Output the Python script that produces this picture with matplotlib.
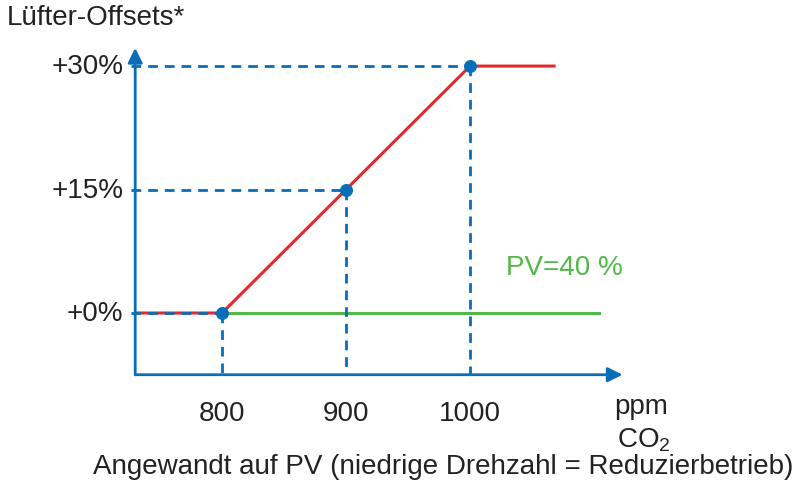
import matplotlib.pyplot as plt

plt.rcParams['font.family'] = ['Liberation Sans', 'DejaVu Sans']

# CO2 breakpoints (ppm) and fan offsets (%)
co2_points = [800, 900, 1000]
offset_points = [0, 15, 30]
curve_x = [730, 800, 900, 1000, 1069]
curve_y = [0, 0, 15, 30, 30]
pv_x = [800, 1104]
pv_y = [0, 0]
y_ticks = [0, 15, 30]
y_tick_labels = ['+0%', '+15%', '+30%']

blue = '#0A6DB8'
red = '#E8262D'
green = '#52B848'

fig = plt.figure(figsize=(7.99, 4.81), dpi=100)
ax = fig.add_axes([0, 0, 1, 1])
ax.set_xlim(620.97, 1265.3)
ax.set_ylim(-20.29, 38.15)
ax.axis('off')

x0, y0 = 730, -7.5

# red characteristic curve
ax.plot(curve_x, curve_y, color=red, lw=2.2, zorder=2, solid_capstyle='butt')
# green PV line
ax.plot(pv_x, pv_y, color=green, lw=2.2, zorder=2)

# blue dashed helper lines
dash = dict(color=blue, lw=2, dashes=(3.5, 2.5), zorder=3)
for x, y in zip(co2_points, offset_points):
    ax.plot([727, x], [y, y], **dash)
    ax.plot([x, x], [y, y0], **dash)

ax.scatter(co2_points, offset_points, s=70, color=blue, zorder=4)

# axes with arrows
arrow = dict(arrowstyle='-|>', color=blue, lw=2, mutation_scale=22, shrinkA=0, shrinkB=0)
ax.annotate('', xy=(1123, y0), xytext=(x0, y0), arrowprops=arrow)
ax.annotate('', xy=(x0, 32.2), xytext=(x0, y0), arrowprops=arrow)

fs = 20
txt = '#222222'
for t, lab in zip(y_ticks, y_tick_labels):
    ax.text(720.5, t, lab, ha='right', va='center', fontsize=fs, color=txt)
for x in co2_points:
    ax.text(x, -12.1, str(x), ha='center', va='center', fontsize=fs, color=txt)

ax.text(1138, -11.3, 'ppm', ha='center', va='center', fontsize=fs, color=txt)
ax.text(1140, -15.3, 'CO$_\\mathregular{2}$', ha='center', va='center', fontsize=fs, color=txt)
ax.text(0.555, 0.03, 'Angewandt auf PV (niedrige Drehzahl = Reduzierbetrieb)', transform=ax.transAxes,
        ha='center', va='center', fontsize=fs, color=txt)
ax.text(0.008, 0.962, 'Lüfter-Offsets*', transform=ax.transAxes,
        ha='left', va='center', fontsize=fs, color=txt)
ax.text(1076, 5.6, 'PV=40 %', ha='center', va='center', fontsize=fs, color=green)

fig.savefig('out.png', dpi=100)
